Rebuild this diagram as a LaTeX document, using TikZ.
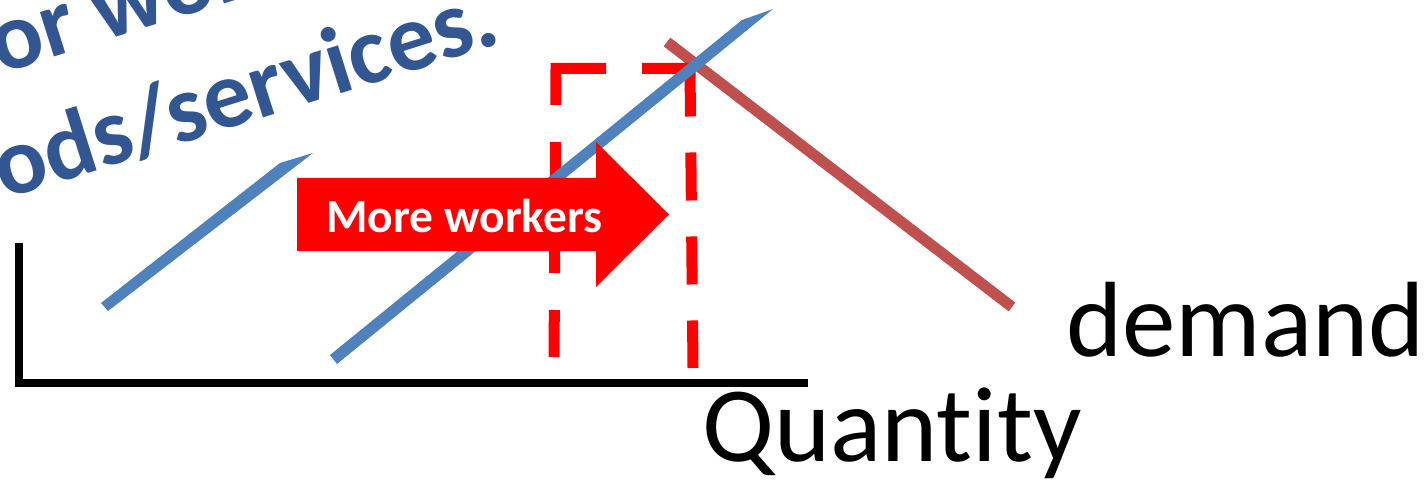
\documentclass[tikz,border=0pt]{standalone}
\usepackage{fontspec}
\setmainfont{Carlito}[Ligatures=NoCommon]
\definecolor{supplyblue}{HTML}{4F81BD}
\definecolor{demandred}{HTML}{C0504D}
\definecolor{titleblue}{RGB}{50,86,146}
\definecolor{brightred}{HTML}{FF0000}
\tikzset{
  axisline/.style={line width=8pt, line join=miter, black},
  supplyline/.style={fill=supplyblue, draw=none},
  demandline/.style={line width=11pt, demandred},
  shiftbox/.style={line width=11pt, brightred, line join=miter,
    dash pattern=on 47pt off 37pt on 47pt off 37pt on 47pt off 37pt on 86.5pt off 36pt on 96pt off 36pt on 48pt off 36pt on 48pt off 36pt on 48pt off 60pt},
  bigarrow/.style={fill=brightred, draw=none},
  titletext/.style={inner sep=0pt, anchor=base west, rotate=17.5, text=titleblue,
    font=\fontsize{96}{110}\selectfont\bfseries},
  labeltext/.style={inner sep=0pt, anchor=base west, text=black,
    font=\fontsize{107}{120}\selectfont},
  arrowtext/.style={inner sep=0pt, text=white, font=\fontsize{47.5}{56}\selectfont\bfseries}
}
\begin{document}
\begin{tikzpicture}[x=1pt, y=-1pt]
\useasboundingbox (0,0) rectangle (1427,481);
\begin{scope}
\clip (0,0) rectangle (1427,481);
% title text (cut off)
\node[titletext] (title1) at (-27.6,83) {for workers};
\node[titletext] (title2) at (-87.5,228.7) {goods/services.};
% axes
\coordinate (ytop) at (19,243);
\coordinate (origin) at (19,383);
\coordinate (xend) at (808,383);
\draw[axisline] (ytop) -- (origin) -- (xend);
% demand curve
\coordinate (d1) at (667,42);
\coordinate (d2) at (1012,307);
\draw[demandline] (d1) -- (d2);
% dashed shift box
\coordinate (b1) at (554,357);
\coordinate (b2) at (556,68.5);
\coordinate (b3) at (690,68.5);
\coordinate (b4) at (693,368);
\draw[shiftbox] (b1) -- (b2) -- (b3) -- (b4);
% supply curves
\fill[supplyline] (101,303) -- (280,163) -- (313,153) -- (108,311) -- cycle;
\fill[supplyline] (330,355) -- (742,20) -- (773,9) -- (337,364) -- cycle;
% arrow
\fill[bigarrow] (297,178) -- (596,178) -- (596,142) -- (669,214.5) -- (596,287) -- (596,251) -- (297,251) -- cycle;
\node[arrowtext] (arrowlabel) at (464.5,216) {More workers};
% labels
\node[labeltext] (demandlabel) at (1066,356) {demand};
\node[labeltext] (quantitylabel) at (702,461) {Quantity};
\end{scope}
\end{tikzpicture}
\end{document}
